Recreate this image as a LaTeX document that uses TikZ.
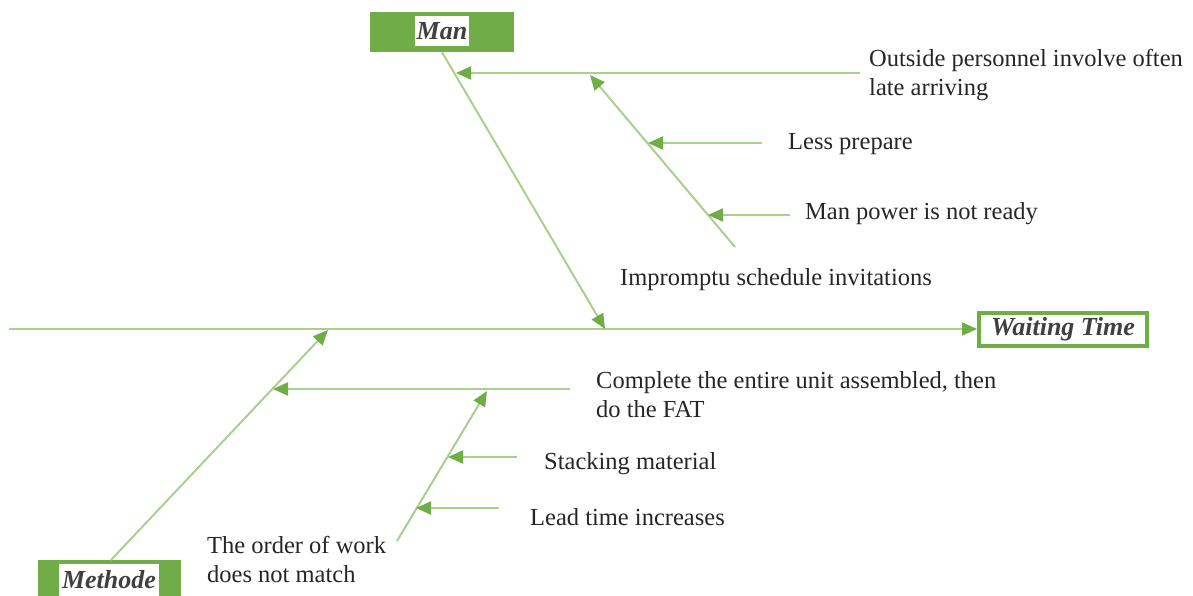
\documentclass[tikz,border=0pt]{standalone}
\usepackage{fontspec}
\setmainfont{Liberation Serif}
\usetikzlibrary{arrows.meta}
\definecolor{lgreen}{HTML}{A9D18E}
\definecolor{dgreen}{HTML}{70AD47}
\definecolor{hdr}{HTML}{404040}
\tikzset{
 conn/.style={draw=lgreen, line width=2pt, -{Triangle[length=15pt,width=13pt,color=dgreen]}},
 lbl/.style={font=\fontsize{24.5}{29}\selectfont, inner sep=0pt, anchor=base west, align=left, text=black!85},
 hdrtext/.style={font=\fontsize{26}{30}\selectfont\bfseries\itshape, text=hdr, fill=white, inner sep=0pt},
 greenbox/.style={fill=dgreen, inner sep=0pt},
}
\begin{document}
\begin{tikzpicture}[x=1pt,y=-1pt]
\useasboundingbox (0,0) rectangle (1193,596);
% heads
\node[greenbox, minimum width=144pt, minimum height=40pt] (man) at (442,32) {};
\node[hdrtext, minimum width=54pt, minimum height=30pt] (mantext) at (442,31) {Man};
\node[hdrtext, draw=dgreen, line width=4pt, minimum width=168pt, minimum height=33pt] (wt) at (1063,329) {Waiting Time};
\node[greenbox, minimum width=143pt, minimum height=36pt] (methbox) at (109.5,578) {};
\node[hdrtext, minimum width=100pt, minimum height=32pt] (meth) at (109,580) {Methode};
% labels
\node[lbl] (t1) at (869,96) {Outside personnel involve often\\late arriving};
\node[lbl] (t2) at (788,150) {Less prepare};
\node[lbl] (t3) at (805,219) {Man power is not ready};
\node[lbl] (t4) at (620,285) {Impromptu schedule invitations};
\node[lbl] (t5) at (596,417) {Complete the entire unit assembled, then\\do the FAT};
\node[lbl] (t6) at (544,469) {Stacking material};
\node[lbl] (t7) at (530,525) {Lead time increases};
\node[lbl] (t8) at (207,582) {The order of work\\does not match};
% coordinates
\coordinate (s0) at (9,329);
\coordinate (mb1) at (605,329);
\coordinate (ms0) at (860,73);
\coordinate (ms1) at (456,73);
\coordinate (mss0) at (735,247);
\coordinate (mss1) at (590,75);
\coordinate (a1s) at (762,143);
\coordinate (a1e) at (648,143);
\coordinate (a2s) at (790,215);
\coordinate (a2e) at (708,215);
\coordinate (me0) at (111,560);
\coordinate (me1) at (328,330);
\coordinate (mes0) at (570,389);
\coordinate (mes1) at (273,389);
\coordinate (mess0) at (397,541);
\coordinate (mess1) at (487,391);
\coordinate (b1s) at (517,457);
\coordinate (b1e) at (448,457);
\coordinate (b2s) at (499,508);
\coordinate (b2e) at (416,508);
% connectors
\draw[conn] (s0) -- (wt.west);
\draw[conn] (man.south) -- (mb1);
\draw[conn] (ms0) -- (ms1);
\draw[conn] (mss0) -- (mss1);
\draw[conn] (a1s) -- (a1e);
\draw[conn] (a2s) -- (a2e);
\draw[conn] (me0) -- (me1);
\draw[conn] (mes0) -- (mes1);
\draw[conn] (mess0) -- (mess1);
\draw[conn] (b1s) -- (b1e);
\draw[conn] (b2s) -- (b2e);
\end{tikzpicture}
\end{document}
